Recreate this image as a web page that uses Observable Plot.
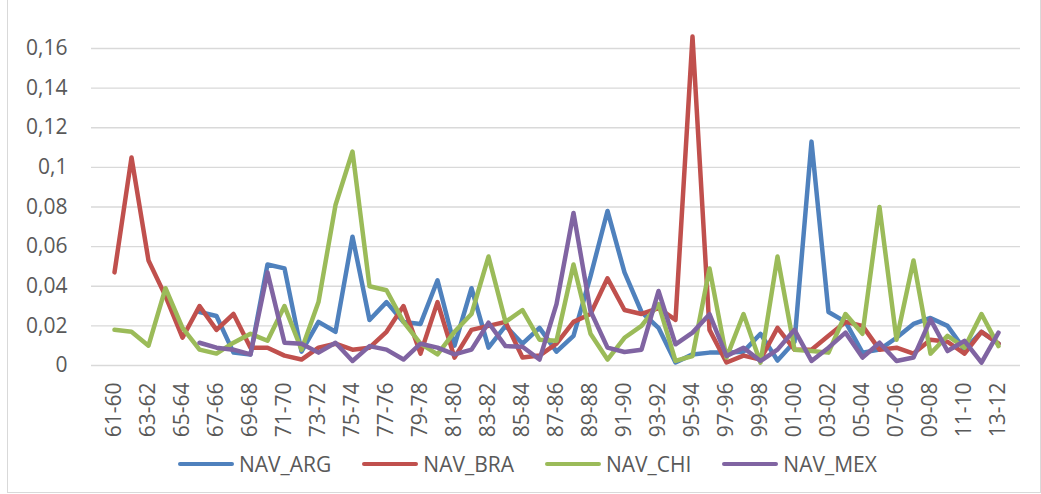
<!DOCTYPE html>
<html>
<head>
<meta charset="utf-8">
<script src="https://cdn.jsdelivr.net/npm/d3@7"></script>
<script src="https://cdn.jsdelivr.net/npm/@observablehq/plot@0.6"></script>
<style>
  html, body { margin: 0; padding: 0; background: #ffffff; }
  #wrap { position: relative; width: 1041px; height: 494px; overflow: hidden; font-family: "Open Sans", sans-serif; }
  #frame { position: absolute; left: 7px; top: -1px; width: 1032px; height: 492px; border: 1px solid #d9d9d9; box-sizing: content-box; pointer-events: none; }
  #chart { position: absolute; left: 0; top: 0; }
  #legend { position: absolute; left: 178px; top: 451px; display: flex; align-items: center; font-size: 21px; color: #595959; line-height: 26px; white-space: nowrap; }
  .item { display: flex; align-items: center; margin-right: 31px; }
  .sw { width: 56px; height: 4.5px; border-radius: 2px; margin-right: 5px; }
</style>
</head>
<body>
<div id="wrap">
  <div id="frame"></div>
  <div id="chart"></div>
  <div id="legend"></div>
</div>
<script>
const categories = ["61-60","62-61","63-62","64-63","65-64","66-65","67-66","68-67","69-68","70-69",
  "71-70","72-71","73-72","74-73","75-74","76-75","77-76","78-77","79-78","80-79",
  "81-80","82-81","83-82","84-83","85-84","86-85","87-86","88-87","89-88","90-89",
  "91-90","92-91","93-92","94-93","95-94","96-95","97-96","98-97","99-98","00-99",
  "01-00","02-01","03-02","04-03","05-04","06-05","07-06","08-07","09-08","10-09",
  "11-10","12-11","13-12"];

const seriesNames = ["NAV_ARG", "NAV_BRA", "NAV_CHI", "NAV_MEX"];
const seriesColors = ["#4f81bd", "#c0504d", "#9bbb59", "#8064a2"];

const navARG = [null, null, null, null, null, 0.027, 0.025, 0.0065, 0.0056, 0.051,
  0.049, 0.007, 0.022, 0.017, 0.065, 0.023, 0.032, 0.022, 0.021, 0.043,
  0.010, 0.039, 0.009, 0.020, 0.011, 0.019, 0.007, 0.015, 0.045, 0.078,
  0.047, 0.027, 0.019, 0.0015, 0.0056, 0.0065, 0.0065, 0.007, 0.016, 0.0025,
  0.012, 0.113, 0.027, 0.022, 0.0065, 0.008, 0.014, 0.021, 0.024, 0.020,
  0.008, 0.017, 0.011];

const navBRA = [0.047, 0.105, 0.053, 0.035, 0.014, 0.030, 0.018, 0.026, 0.009, 0.009,
  0.005, 0.003, 0.009, 0.011, 0.008, 0.009, 0.017, 0.030, 0.006, 0.032,
  0.004, 0.018, 0.020, 0.022, 0.004, 0.005, 0.011, 0.022, 0.026, 0.044,
  0.028, 0.026, 0.029, 0.023, 0.166, 0.018, 0.0015, 0.005, 0.003, 0.019,
  0.008, 0.008, 0.015, 0.022, 0.020, 0.008, 0.009, 0.006, 0.013, 0.012,
  0.006, 0.017, 0.011];

const navCHI = [0.018, 0.017, 0.010, 0.039, 0.019, 0.008, 0.006, 0.0115, 0.016, 0.0125,
  0.030, 0.008, 0.032, 0.081, 0.108, 0.040, 0.038, 0.022, 0.011, 0.0056,
  0.017, 0.026, 0.055, 0.022, 0.028, 0.013, 0.0125, 0.051, 0.016, 0.003,
  0.014, 0.020, 0.031, 0.0023, 0.0048, 0.049, 0.004, 0.026, 0.0014, 0.055,
  0.008, 0.0073, 0.0065, 0.026, 0.016, 0.080, 0.013, 0.053, 0.006, 0.015,
  0.009, 0.026, 0.0098];

const navMEX = [null, null, null, null, null, 0.0115, 0.009, 0.008, 0.0056, 0.047,
  0.0115, 0.011, 0.0065, 0.0115, 0.0023, 0.0098, 0.008, 0.003, 0.011, 0.009,
  0.0056, 0.008, 0.0216, 0.0098, 0.0095, 0.003, 0.031, 0.077, 0.0275, 0.009,
  0.0068, 0.008, 0.0376, 0.0107, 0.0166, 0.0259, 0.0048, 0.009, 0.0023, 0.008,
  0.018, 0.0023, 0.009, 0.0166, 0.004, 0.0115, 0.0023, 0.004, 0.0233, 0.0073,
  0.0124, 0.0014, 0.0166];

const yTicks = [0, 0.02, 0.04, 0.06, 0.08, 0.1, 0.12, 0.14, 0.16];
const yTickLabels = ["0", "0,02", "0,04", "0,06", "0,08", "0,1", "0,12", "0,14", "0,16"];
const xTickLabels = categories.filter((d, i) => i % 2 === 0);

const allSeries = [navARG, navBRA, navCHI, navMEX];
const rows = [];
allSeries.forEach((vals, s) => {
  vals.forEach((v, i) => {
    rows.push({series: seriesNames[s], cat: categories[i], value: v});
  });
});

const chart = Plot.plot({
  width: 1041,
  height: 440,
  marginLeft: 91,
  marginRight: 21,
  marginTop: 48,
  marginBottom: 75,
  style: {fontFamily: "'Open Sans', sans-serif", fontSize: "21px", color: "#595959", background: "transparent"},
  x: {type: "point", domain: categories, padding: 0.5, align: 0.5, axis: null},
  y: {domain: [0, 0.16], axis: null, label: null},
  color: {domain: seriesNames, range: seriesColors},
  marks: [
    Plot.ruleY(yTicks, {y: d => d, stroke: "#d9d9d9", strokeWidth: 1.4}),
    Plot.axisY(yTicks, {tickSize: 0, tickPadding: 24, label: null, tickFormat: d => yTickLabels[yTicks.indexOf(d)], fill: "#595959", fontSize: 21}),
    Plot.text(xTickLabels, {x: d => d, frameAnchor: "bottom", dy: 17, rotate: -90, textAnchor: "end", lineAnchor: "middle", fill: "#595959", fontSize: 21}),
    Plot.line(rows, {x: "cat", y: "value", z: "series", stroke: "series", strokeWidth: 4.5, strokeLinejoin: "round", strokeLinecap: "round"})
  ]
});
document.getElementById("chart").appendChild(chart);

const legend = document.getElementById("legend");
seriesNames.forEach((name, i) => {
  const item = document.createElement("div");
  item.className = "item";
  const sw = document.createElement("div");
  sw.className = "sw";
  sw.style.background = seriesColors[i];
  const label = document.createElement("span");
  label.textContent = name;
  item.appendChild(sw);
  item.appendChild(label);
  legend.appendChild(item);
});
</script>
</body>
</html>
